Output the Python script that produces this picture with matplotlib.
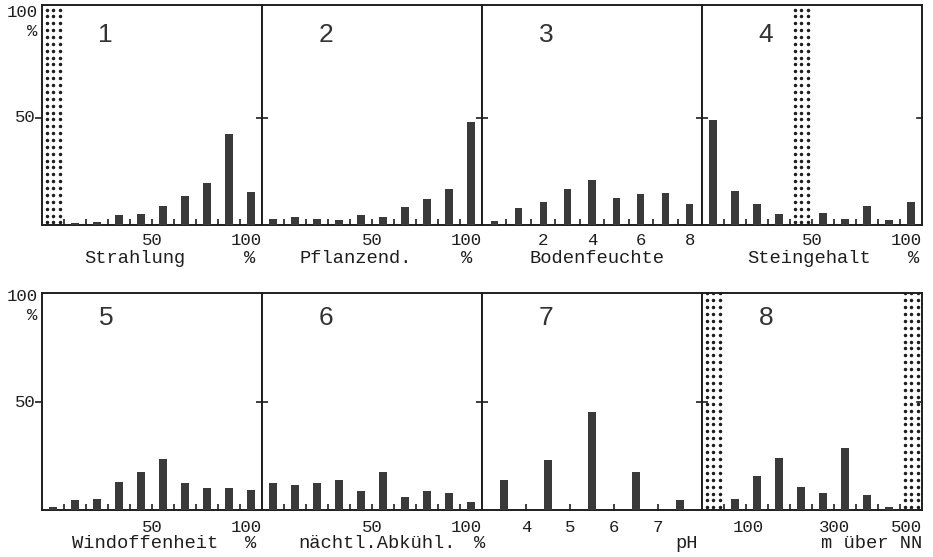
import numpy as np
import matplotlib.pyplot as plt

# Anteil der Aufnahmen (%) je Klasse
strahlung_x = [15, 25, 35, 45, 55, 65, 75, 85, 95]
strahlung = [1.1, 1.2, 4.7, 5.0, 8.9, 13.3, 19.5, 42.2, 15.6]
pct_x = [5, 15, 25, 35, 45, 55, 65, 75, 85, 95]
pflanzend = [2.7, 3.9, 2.7, 2.3, 4.7, 3.6, 8.3, 12.0, 16.9, 48.1]
boden_x = [0, 1, 2, 3, 4, 5, 6, 7, 8]
bodenfeuchte = [1.9, 7.8, 10.5, 16.7, 21.1, 12.8, 14.5, 14.8, 9.7]
stein_x = [5, 15, 25, 35, 55, 65, 75, 85, 95]
steingehalt = [48.9, 15.8, 9.8, 5.0, 5.4, 3.0, 8.7, 2.4, 10.9]
windoffenheit = [1.5, 4.6, 4.9, 12.8, 17.4, 23.8, 12.6, 10.2, 10.2, 9.1]
abkuehlung = [12.3, 11.5, 12.7, 14.1, 8.9, 17.8, 6.1, 8.9, 7.7, 3.8]
ph_x = [3.5, 4.5, 5.5, 6.5, 7.5]
ph = [14.1, 23.0, 45.4, 17.5, 4.6]
hoehe_x = [75, 125, 175, 225, 275, 325, 375, 425]
hoehe = [5.1, 15.8, 24.0, 10.8, 8.0, 28.5, 7.1, 1.5]

pct_bounds = [10, 20, 30, 40, 50, 60, 70, 80, 90]
pct_labels = [(50, '50', 'center'), (100, '100', 'right')]

panels = [
    dict(n='1', x=strahlung_x, y=strahlung, xlim=(0, 100), w=3.2, bounds=pct_bounds,
         labels=pct_labels, name=(42, 'Strahlung'), unit=94.5, dots=[(0, 10)]),
    dict(n='2', x=pct_x, y=pflanzend, xlim=(0, 100), w=3.2, bounds=pct_bounds,
         labels=pct_labels, name=(42.5, 'Pflanzend.'), unit=93, dots=[]),
    dict(n='3', x=boden_x, y=bodenfeuchte, xlim=(-0.5, 8.5), w=0.29,
         bounds=[0.5, 1.5, 2.5, 3.5, 4.5, 5.5, 6.5, 7.5],
         labels=[(2, '2', 'center'), (4, '4', 'center'), (6, '6', 'center'), (8, '8', 'center')],
         name=(4.2, 'Bodenfeuchte'), unit=None, dots=[]),
    dict(n='4', x=stein_x, y=steingehalt, xlim=(0, 100), w=3.2, bounds=pct_bounds,
         labels=pct_labels, name=(48.6, 'Steingehalt'), unit=96, dots=[(40, 50)]),
    dict(n='5', x=pct_x, y=windoffenheit, xlim=(0, 100), w=3.2, bounds=pct_bounds,
         labels=pct_labels, name=(47, 'Windoffenheit'), unit=95, dots=[]),
    dict(n='6', x=pct_x, y=abkuehlung, xlim=(0, 100), w=3.2, bounds=pct_bounds,
         labels=pct_labels, name=(52.5, 'nächtl.Abkühl.'), unit=99, dots=[]),
    dict(n='7', x=ph_x, y=ph, xlim=(3, 8), w=0.16, bounds=[4, 5, 6, 7],
         labels=[(4, '4', 'center'), (5, '5', 'center'), (6, '6', 'center'), (7, '7', 'center')],
         name=(7.66, 'pH'), unit=None, dots=[]),
    dict(n='8', x=hoehe_x, y=hoehe, xlim=(0, 500), w=16,
         bounds=[50, 100, 150, 200, 250, 300, 350, 400, 450],
         labels=[(105, '100', 'center'), (302, '300', 'center'), (500, '500', 'right')],
         name=None, unit=None, dots=[(0, 50), (450, 500)]),
]

mono = 'Liberation Mono'
ink = '#1e1e1e'
bar_col = '#3a3a3a'

fig = plt.figure(figsize=(9.33, 5.57), dpi=100)
W, H = 933, 557
rows = [(5, 225), (293, 510)]  # top / baseline in pixels
col_w = 220

for i, p in enumerate(panels):
    r, c = divmod(i, 4)
    top, base = rows[r]
    ax = fig.add_axes([(42 + c * col_w) / W, 1 - base / H, col_w / W, (base - top) / H])
    ytop = 102.5 if r == 0 else 100.5
    ax.bar(p['x'], p['y'], width=p['w'], color=bar_col, zorder=3)
    ax.set_xlim(*p['xlim'])
    ax.set_ylim(0, ytop)
    for s in ax.spines.values():
        s.set_linewidth(1.4)
        s.set_color(ink)

    ax.set_xticks(p['bounds'])
    ax.tick_params(axis='x', direction='in', length=4, width=1.2, color=ink, labelbottom=False)
    ax.set_yticks([50])
    ax.tick_params(axis='y', direction='out' if c == 0 else 'inout',
                   length=5 if c == 0 else 8, width=1.2, color=ink, labelleft=False)
    if c == 3:
        # kurzer Strich innen am rechten Rand bei 50
        ax.plot([0.975, 1.0], [50, 50], transform=ax.get_yaxis_transform(),
                color=ink, lw=1.2, clip_on=False)

    # schraffierte (nicht besetzte) Klassen
    for lo, hi in p['dots']:
        xs = lo + (hi - lo) * np.array([0.22, 0.52, 0.8])
        ys = np.arange(1.2, ytop, 3.2)
        X, Y = np.meshgrid(xs, ys)
        ax.plot(X.ravel(), Y.ravel(), ls='none', marker='o', ms=1.5, color=ink, zorder=2)

    ax.text(0.29, 0.865 if r == 0 else 0.885, p['n'], transform=ax.transAxes,
            fontsize=19, family='Liberation Sans', ha='center', va='center', color='#333333')

    trans = ax.get_xaxis_transform()
    ydig = -15 / 220 if r == 0 else -17 / 217
    yname = -33 / 220 if r == 0 else -33 / 217
    for xv, txt, ha in p['labels']:
        ax.text(xv, ydig, txt, transform=trans, ha=ha, va='center', family=mono,
                fontsize=12.5, color=ink)
    if p['name'] is not None:
        ax.text(p['name'][0], yname, p['name'][1], transform=trans, ha='center', va='center',
                family=mono, fontsize=13.5, color=ink)
    else:
        ax.text(500, yname, 'm über NN', transform=trans, ha='right', va='center',
                family=mono, fontsize=13.5, color=ink)
    if p['unit'] is not None:
        ax.text(p['unit'], yname, '%', transform=trans, ha='center', va='center',
                family=mono, fontsize=13.5, color=ink)

    if c == 0:
        ytr = ax.get_yaxis_transform()
        ax.text(-0.02, 99, '100', transform=ytr, ha='right', va='center', family=mono,
                fontsize=12.5, color=ink)
        ax.text(-0.02, 90, '%', transform=ytr, ha='right', va='center', family=mono,
                fontsize=12.5, color=ink)
        ax.text(-0.03, 50, '50', transform=ytr, ha='right', va='center', family=mono,
                fontsize=12.5, color=ink)

fig.savefig('out.png', dpi=100)
